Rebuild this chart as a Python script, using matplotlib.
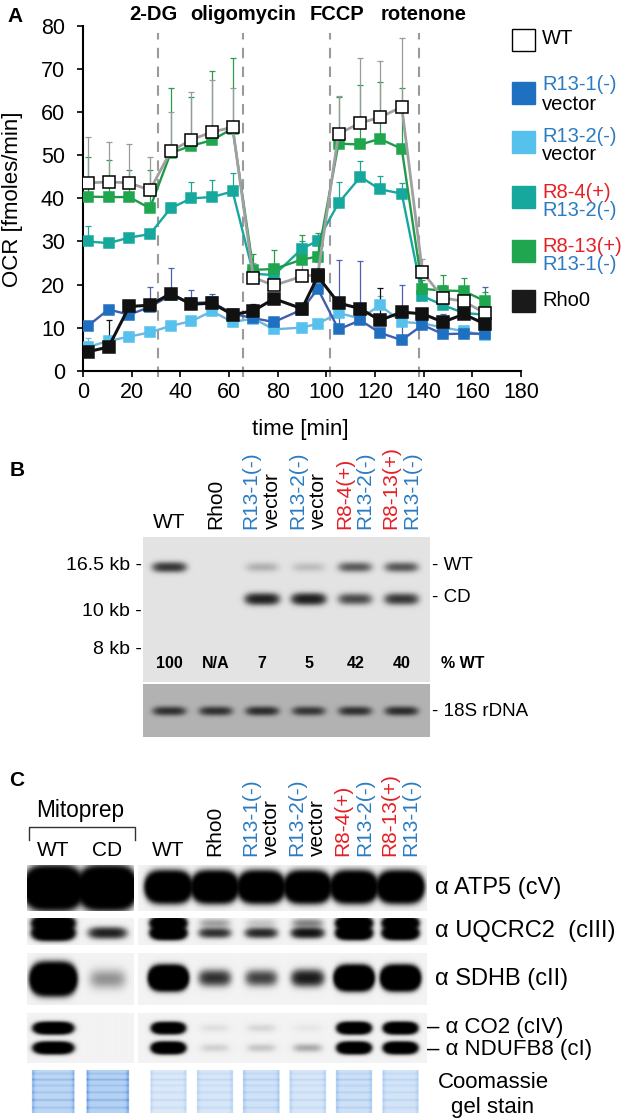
import numpy as np
import matplotlib
matplotlib.use('Agg')
import matplotlib.pyplot as plt
from matplotlib.patches import Rectangle
from matplotlib.colors import LinearSegmentedColormap

plt.rcParams['font.family'] = ['Liberation Sans', 'DejaVu Sans']

W, H = 630, 1120
BLUE = '#2a7bc2'
RED = '#e41f26'

# ---------------- panel A data (OCR, fmoles/min) ----------------
times = [2, 10.5, 19, 27.5, 36, 44.5, 53, 61.5, 70, 78.5, 90, 96.5,
         105, 114, 122, 131, 139.5, 148, 156.5, 165]

ocr_wt = [43.6, 43.8, 43.6, 41.9, 50.9, 53.6, 55.4, 56.5, 21.6, 19.8, 21.9, 22.3,
          55.0, 57.5, 58.8, 61.2, 22.9, 16.9, 16.1, 13.4]
err_wt = [10.6, 9.2, 9.1, 7.7, 9.1, 11.0, 12.0, 9.0, 3.5, 3.0, 3.0, 3.0,
          8.7, 15.0, 13.0, 16.0, 3.0, 3.0, 3.0, 2.6]

ocr_r8_13 = [40.4, 40.3, 40.3, 37.7, 50.5, 52.2, 53.5, 56.2, 23.4, 23.6, 25.8, 26.5,
             52.7, 52.5, 53.8, 51.5, 19.0, 18.6, 18.5, 16.2]
err_r8_13 = [9.2, 8.5, 6.2, 8.8, 15.0, 11.3, 16.0, 16.3, 3.6, 4.4, 5.7, 5.5,
             10.8, 13.7, 13.2, 14.2, 2.0, 3.6, 3.0, 2.0]

ocr_r8_4 = [30.0, 29.6, 30.9, 31.7, 37.7, 40.0, 40.3, 41.6, 22.5, 22.2, 28.3, 30.2,
            38.9, 45.0, 42.1, 41.1, 17.3, 15.2, 13.4, 13.0]
err_r8_4 = [3.5, 1.0, 1.0, 1.0, 1.3, 3.8, 3.9, 4.2, 1.5, 2.0, 1.7, 0.8,
            4.9, 3.7, 3.1, 2.5, 1.2, 0.8, 0.6, 0.5]

ocr_r13_1 = [10.4, 14.2, 13.0, 14.8, 17.5, 15.7, 15.9, 13.2, 12.2, 11.3, 14.2, 19.0,
             9.6, 11.7, 8.8, 7.1, 10.6, 8.5, 8.6, 8.6]
err_r13_1 = [1.0, 0.8, 1.0, 4.6, 6.4, 3.1, 1.9, 0.8, 0.8, 0.7, 0.3, 1.0,
             16.0, 13.7, 0.7, 12.7, 0.9, 4.6, 0.4, 10.8]

ocr_r13_2 = [5.5, 6.9, 7.9, 8.9, 10.4, 11.5, 13.8, 11.3, 12.1, 9.6, 10.0, 10.9,
             13.4, 12.1, 15.2, 11.3, 11.0, 10.0, 9.2, 8.2]
err_r13_2 = [2.0, 0.5, 0.5, 0.5, 0.5, 0.5, 0.5, 0.5, 0.5, 0.5, 0.5, 0.5,
             0.5, 0.5, 2.1, 0.5, 0.5, 0.5, 0.5, 0.5]

ocr_rho0 = [4.4, 5.5, 14.9, 15.2, 17.9, 15.4, 15.7, 13.0, 13.9, 16.7, 14.4, 21.9,
            15.7, 14.4, 11.7, 13.6, 13.2, 11.3, 13.1, 10.9]
err_rho0 = [0.6, 6.2, 1.0, 1.0, 1.0, 1.0, 1.0, 0.5, 1.5, 0.5, 0.5, 0.5,
            1.0, 1.0, 7.6, 0.5, 0.5, 0.5, 0.5, 0.5]

inject_times = [30.7, 65.6, 101.4, 138.0]
inject_label_x = [29, 65.7, 104.3, 140]
inject_names = ['2-DG', 'oligomycin', 'FCCP', 'rotenone']

# lane / legend names (line, colour)
lane_lines = [
    [('WT', 'black')],
    [('Rho0', 'black')],
    [('R13-1(-)', BLUE), ('vector', 'black')],
    [('R13-2(-)', BLUE), ('vector', 'black')],
    [('R8-4(+)', RED), ('R13-2(-)', BLUE)],
    [('R8-13(+)', RED), ('R13-1(-)', BLUE)],
]

# ---------------- panel B data (band strength, read by eye) ----------------
pct_wt = ['100', 'N/A', '7', '5', '42', '40']
b_wt_band = [1.4, 0.0, 0.25, 0.18, 0.9, 0.95]
b_cd_band = [0.0, 0.0, 1.9, 2.0, 1.1, 1.4]
b_rdna_band = [1.3, 1.3, 1.4, 1.2, 1.3, 1.4]
kb_labels = ['16.5 kb -', '10 kb -', '8 kb -']

# ---------------- panel C data ----------------
mito_lanes = ['WT', 'CD']
atp5_left = [40, 40]
atp5_right = [30, 30, 30, 30, 30, 30]
uq_up_left = [12, 0.0]
uq_up_right = [12, 0.4, 0.2, 0.6, 12, 12]
uq_lo_left = [12, 2.0]
uq_lo_right = [12, 1.6, 1.8, 2.5, 12, 12]
sdhb_left = [40, 0.5]
sdhb_right = [40, 1.6, 1.3, 2.2, 40, 40]
co2_left = [12, 0.0]
co2_right = [10, 0.08, 0.12, 0.05, 12, 12]
nd_left = [12, 0.0]
nd_right = [12, 0.15, 0.2, 0.35, 12, 12]
coom_left = [1.0, 1.1]
coom_right = [0.55, 0.6, 0.7, 0.6, 0.75, 0.65]
blot_names = ['α ATP5 (cV)', 'α UQCRC2  (cIII)', 'α SDHB (cII)']

fig = plt.figure(figsize=(6.3, 11.2), dpi=100)


def add_px(x0, y0, x1, y1):
    return fig.add_axes([x0 / W, 1 - y1 / H, (x1 - x0) / W, (y1 - y0) / H])


# ---------------- panel A ----------------
ax = add_px(83, 26, 521, 370.7)
series = [
    (ocr_r13_2, err_r13_2, '#6cb6df', '#55c1ec', 7.3, 1.7, '#6cb6df'),
    (ocr_r13_1, err_r13_1, '#3f5fae', '#1f70c1', 7.3, 1.7, '#4a62b0'),
    (ocr_r8_4, err_r8_4, '#16a89c', '#16a89c', 7.3, 1.7, '#1aa598'),
    (ocr_r8_13, err_r8_13, '#22994a', '#1fa64e', 7.3, 1.7, '#2a9c4c'),
    (ocr_wt, err_wt, '#a0a0a0', 'white', 8.8, 2.0, '#9a9a9a'),
    (ocr_rho0, err_rho0, '#111111', '#111111', 8.6, 2.2, '#111111'),
]
for vals, errs, lc, mfc, ms, lw, ec in series:
    ax.errorbar(times, vals, yerr=[np.zeros(len(errs)), errs], fmt='none',
                ecolor=ec, elinewidth=0.9, capsize=2.2, capthick=0.9, zorder=1)
for vals, errs, lc, mfc, ms, lw, ec in series:
    mec = 'black' if mfc == 'white' else mfc
    ax.plot(times, vals, '-s', color=lc, mfc=mfc, mec=mec, ms=ms, lw=lw,
            mew=1.1, zorder=3)

ax.vlines(inject_times, -1.5, 78.3, colors='#9a9a9a', linestyles=(0, (5, 4)),
          lw=1.5, clip_on=False, zorder=0)
for x, s in zip(inject_label_x, inject_names):
    ax.text(x, 82.6, s, ha='center', va='center', fontsize=14.5,
            fontweight='bold', clip_on=False)

ax.set_xlim(0, 180)
ax.set_ylim(0, 80)
ax.set_xticks(range(0, 181, 20))
ax.set_yticks(range(0, 81, 10))
ax.tick_params(labelsize=15.5, direction='out', length=4, width=1.2)
ax.tick_params(axis='y', pad=9)
ax.tick_params(axis='x', pad=4)
for s in ['top', 'right']:
    ax.spines[s].set_visible(False)
for s in ['left', 'bottom']:
    ax.spines[s].set_linewidth(1.5)


# ---------------- blot helpers ----------------
def blot(x0, y0, x1, y1, lane_x0, pitch, rows, bg, k=1.0):
    b = add_px(x0, y0, x1, y1)
    xs = np.linspace(x0, x1, int((x1 - x0) * 2))
    ys = np.linspace(y0, y1, int((y1 - y0) * 2))
    X, Y = np.meshgrid(xs, ys)
    S = np.zeros_like(X)
    for yc, sy, amps, sx in rows:
        for i, a in enumerate(amps):
            xc = lane_x0 + pitch * (i + 0.5)
            S += a * np.exp(-np.abs((X - xc) / (sx * pitch)) ** 4
                            - ((Y - yc) / sy) ** 2)
    img = bg + (1 - bg) * (1 - np.exp(-k * S))
    b.imshow(img, cmap='gray_r', vmin=0, vmax=1, extent=(x0, x1, y1, y0),
             aspect='auto', interpolation='bilinear')
    b.set_xlim(x0, x1)
    b.set_ylim(y1, y0)
    b.axis('off')
    return b


coom_cmap = LinearSegmentedColormap.from_list('coom', ['white', '#9cc2ee', '#2a6cc8'])
stripes = [(0.08, 0.5), (0.22, 0.8), (0.36, 0.5), (0.52, 0.6), (0.7, 0.8), (0.88, 0.6)]


def coomassie(x0, y0, x1, y1, lane_x0, pitch, levels):
    b = add_px(x0, y0, x1, y1)
    xs = np.linspace(x0, x1, int((x1 - x0) * 2))
    ys = np.linspace(0, 1, int((y1 - y0) * 2))
    X, Y = np.meshgrid(xs, ys)
    img = np.zeros_like(X)
    for i, lv in enumerate(levels):
        xc = lane_x0 + pitch * (i + 0.5)
        hw = 0.39 * pitch
        d = np.abs(X - xc)
        inside = d < hw
        prof = 0.5 + 0.35 * np.exp(-((d - hw) / 2.5) ** 2)
        for p, s in stripes:
            prof = prof + 0.4 * s * np.exp(-((Y - p) / 0.025) ** 2)
        img += inside * lv * prof
    b.imshow(img, cmap=coom_cmap, vmin=0, vmax=1.5, extent=(x0, x1, y1, y0),
             aspect='auto', interpolation='bilinear')
    b.set_xlim(x0, x1)
    b.set_ylim(y1, y0)
    b.axis('off')


RX0, RP = 146, 46.5   # right gel lanes
LX0, LP = 26, 54      # mitoprep lanes

# ---------------- panel B gels ----------------
blot(143, 537, 430, 682, RX0, RP,
     [(567, 4.5, b_wt_band, 0.34), (599, 5.0, b_cd_band, 0.34)], bg=0.11)
blot(143, 684, 430, 737, RX0, RP, [(711, 4.0, b_rdna_band, 0.33)], bg=0.3)

# ---------------- panel C blots ----------------
blot(27, 865, 133, 911, LX0, LP, [(888, 12, atp5_left, 0.4)], bg=0.05)
blot(138, 865, 427, 911, RX0 - 1, RP, [(887, 9, atp5_right, 0.38)], bg=0.05)
blot(27, 918, 133, 945, LX0, LP,
     [(923, 5, uq_up_left, 0.32), (933, 5, uq_lo_left, 0.32)], bg=0.05)
blot(138, 918, 427, 945, RX0 - 1, RP,
     [(923, 4.5, uq_up_right, 0.32), (933, 4.5, uq_lo_right, 0.32)], bg=0.05)
blot(27, 953, 133, 1005, LX0, LP, [(979, 9, sdhb_left, 0.32)], bg=0.05)
blot(138, 953, 427, 1005, RX0 - 1, RP, [(978, 7, sdhb_right, 0.32)], bg=0.05)
blot(27, 1013, 133, 1063, LX0, LP,
     [(1028, 4, co2_left, 0.3), (1048, 4, nd_left, 0.3)], bg=0.05)
blot(138, 1013, 427, 1063, RX0 - 1, RP,
     [(1028, 4, co2_right, 0.3), (1048, 4, nd_right, 0.3)], bg=0.05)
coomassie(27, 1070, 133, 1113, LX0, LP, coom_left)
coomassie(138, 1070, 427, 1113, RX0 - 1, RP, coom_right)

# ---------------- overlay for text ----------------
ov = fig.add_axes([0, 0, 1, 1])
ov.set_xlim(0, W)
ov.set_ylim(H, 0)
ov.axis('off')
ov.patch.set_alpha(0)

for x, y, s in [(15, 17, 'A'), (17, 470, 'B'), (17, 781, 'C')]:
    ov.text(x, y, s, fontsize=15, fontweight='bold', ha='center', va='center')

ov.text(13, 199, 'OCR [fmoles/min]', rotation=90, fontsize=16,
        ha='center', va='center')
ov.text(300, 430, 'time [min]', fontsize=16, ha='center', va='center')

# legend
leg_order = [0, 2, 3, 4, 5, 1]
leg_colors = ['white', '#1f70c1', '#55c1ec', '#16a89c', '#1fa64e', '#1a1a1a']
leg_sq_y = [40, 93, 142, 197, 251, 301]
leg_txt_y = [39, 85, 136, 192, 246, 301]
for idx, col, sy, ty in zip(leg_order, leg_colors, leg_sq_y, leg_txt_y):
    ov.add_patch(Rectangle((512, sy - 11), 23, 22, facecolor=col,
                           edgecolor='black' if col == 'white' else col, lw=1))
    for j, (s, c) in enumerate(lane_lines[idx]):
        ov.text(542, ty + 19 * j, s, color=c, fontsize=14.5, va='center')


def lane_labels(centers, bottom, wt_y):
    for c, lines in zip(centers, lane_lines):
        if lines[0][0] == 'WT':
            ov.text(c, wt_y, 'WT', fontsize=15, ha='center', va='center')
            continue
        offs = [0] if len(lines) == 1 else [-11, 10]
        for (s, col), o in zip(lines, offs):
            ov.text(c + o, bottom, s, color=col, fontsize=15, rotation=90,
                    ha='center', va='bottom')


right_centers = [RX0 + RP * (i + 0.5) for i in range(6)]
lane_labels(right_centers, 529, 523)

for s, y in zip(kb_labels, [565, 612, 649]):
    ov.text(142, y, s, fontsize=14, ha='right', va='center')
for c, s in zip(right_centers, pct_wt):
    ov.text(c, 664, s, fontsize=11.5, fontweight='bold', ha='center', va='center')
ov.text(441, 664, '% WT', fontsize=11.5, fontweight='bold', va='center')
ov.text(432, 565, '- WT', fontsize=13.5, va='center')
ov.text(432, 597, '- CD', fontsize=13.5, va='center')
ov.text(432, 711, '- 18S rDNA', fontsize=13.5, va='center')

# panel C labels
ov.text(80, 811, 'Mitoprep', fontsize=16.3, ha='center', va='center')
ov.plot([29, 29, 135, 135], [840, 827, 827, 840], color='#333333', lw=1)
for i, s in enumerate(mito_lanes):
    ov.text(LX0 + LP * (i + 0.5), 851, s, fontsize=15, ha='center', va='center')
c_centers = [RX0 - 1 + RP * (i + 0.5) for i in range(6)]
lane_labels(c_centers, 856, 851)

for s, y in zip(blot_names, [888, 931, 979]):
    ov.text(435, y, s, fontsize=17, va='center')
ov.text(427, 1027, '– α CO2 (cIV)', fontsize=16, va='center')
ov.text(427, 1049, '– α NDUFB8 (cI)', fontsize=16, va='center')
ov.text(493, 1083, 'Coomassie', fontsize=16, ha='center', va='center')
ov.text(493, 1108, 'gel stain', fontsize=16, ha='center', va='center')

fig.savefig('out.png', dpi=100)
